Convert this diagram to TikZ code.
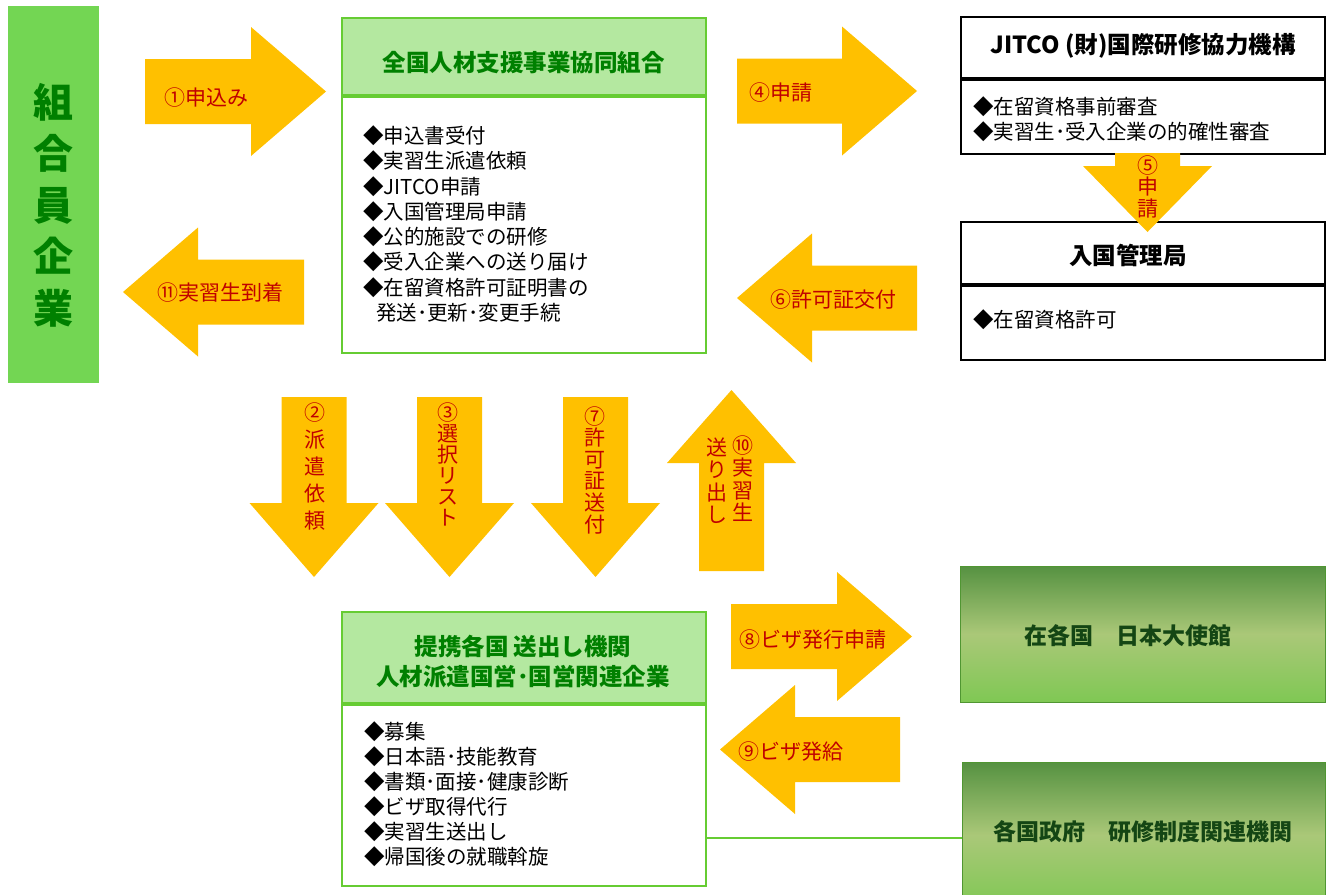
\documentclass[tikz,border=0pt]{standalone}
\usepackage{fontspec}
\setmainfont{Noto Sans CJK JP}
\usepackage{xcolor}
\usepackage{tikz}
\usetikzlibrary{positioning}

\definecolor{arrowfill}{RGB}{255,192,0}
\definecolor{arrowtext}{RGB}{192,0,0}
\definecolor{leftgreen}{RGB}{115,214,83}
\definecolor{titlegreen}{RGB}{0,128,0}
\definecolor{boxgreen}{RGB}{102,204,51}
\definecolor{hdrgreen}{RGB}{180,232,160}
\definecolor{deepgreen}{RGB}{20,70,20}
\definecolor{embedge}{RGB}{80,150,50}
\definecolor{emblow}{RGB}{105,200,65}
\definecolor{embmid}{RGB}{170,200,120}
\definecolor{embhigh}{RGB}{62,130,50}
\definecolor{embstrip}{RGB}{110,190,75}

\pgfdeclareverticalshading{embassy}{100bp}{color(0bp)=(embedge); color(5bp)=(emblow); color(12bp)=(emblow);
  color(50bp)=(embmid); color(82bp)=(embhigh); color(93bp)=(embedge); color(96bp)=(embstrip); color(100bp)=(embedge)}

\newcommand{\hblockarrow}[4]{\fill[arrowfill] (#1,#4-32.5) -- (#2,#4-32.5) -- (#2,#4-64.5) -- (#3,#4)
  -- (#2,#4+64.5) -- (#2,#4+32.5) -- (#1,#4+32.5) -- cycle;}
\newcommand{\vblockarrow}[4]{\fill[arrowfill] (#1-32.5,#2) -- (#1-32.5,#3) -- (#1-64.5,#3) -- (#1,#4)
  -- (#1+64.5,#3) -- (#1+32.5,#3) -- (#1+32.5,#2) -- cycle;}

\setlength{\lineskiplimit}{-40pt}

\begin{document}
\begin{tikzpicture}[x=1pt, y=-1pt,
  panel/.style={line width=2pt, minimum width=364pt, inner sep=0pt},
  embbox/.style={shading=embassy, draw=embedge, line width=1pt, minimum width=365pt, inner sep=0pt},
  boxtitle/.style={font=\bfseries\fontsize{23.5}{30}\selectfont, inner sep=0pt, align=center},
  itemlist/.style={font=\fontsize{20.5}{25.3}\selectfont, inner sep=0pt, align=left, anchor=west},
  atext/.style={text=arrowtext, font=\fontsize{21}{21}\selectfont, inner sep=0pt},
  vtext/.style={text=arrowtext, inner sep=0pt, text width=26pt, align=center}]
\useasboundingbox (0,0) rectangle (1327,894);

\node[fill=leftgreen, minimum width=91pt, minimum height=377pt, inner sep=0pt] (kigyo) at (53.5,194.5) {};
\node[text=titlegreen, font=\bfseries\fontsize{40}{51.5}\selectfont, text width=50pt,
  align=center, inner sep=0pt] (kigyoname) at (53,205) {組\\合\\員\\企\\業};

\node[panel, draw=boxgreen, fill=hdrgreen, minimum height=77pt] (kumiai) at (523.5,56.5) {};
\node[panel, draw=boxgreen, minimum height=256pt, anchor=north] (kumiaibody) at (kumiai.south) {};
\node[boxtitle, text=titlegreen] (kumiaititle) at (523.5,63) {全国人材支援事業協同組合};
\node[itemlist] (kumiaiitems) at (363,224) {◆申込書受付\\◆実習生派遣依頼\\◆JITCO申請\\◆入国管理局申請\\◆公的施設での研修\\
  ◆受入企業への送り届け\\◆在留資格許可証明書の\\\hspace*{13pt}発送･更新･変更手続};

\node[panel, draw=black, minimum height=61pt] (jitco) at (1143,47.5) {};
\node[panel, draw=black, minimum height=74pt, anchor=north] (jitcobody) at (jitco.south) {};
\node[boxtitle] (jitcotitle) at (1143,46) {JITCO (財)国際研修協力機構};
\node[itemlist] (jitcoitems) at (973,119.5) {◆在留資格事前審査\\◆実習生･受入企業の的確性審査};

\node[panel, draw=black, minimum height=62pt] (nyukan) at (1143,253) {};
\node[panel, draw=black, minimum height=74pt, anchor=north] (nyukanbody) at (nyukan.south) {};
\node[boxtitle] (nyukantitle) at (1128,255) {入国管理局};
\node[itemlist] (nyukanitems) at (973,320) {◆在留資格許可};

\node[panel, draw=boxgreen, fill=hdrgreen, minimum height=91pt] (okuri) at (524,657.5) {};
\node[panel, draw=boxgreen, minimum height=181pt, anchor=north] (okuribody) at (okuri.south) {};
\node[boxtitle, text=titlegreen] (okurititle) at (523,662) {提携各国 送出し機関\\人材派遣国営･国営関連企業};
\node[itemlist, font=\fontsize{20.5}{25}\selectfont] (okuriitems) at (364,794.5) {◆募集\\◆日本語･技能教育\\◆書類･面接･健康診断\\
  ◆ビザ取得代行\\◆実習生送出し\\◆帰国後の就職斡旋};

\node[embbox, minimum height=136pt] (taishikan) at (1142.5,634) {};
\node[embbox, minimum width=363pt, minimum height=146pt] (seifu) at (1143.5,835) {};
\node[boxtitle, text=deepgreen, font=\bfseries\fontsize{23}{28}\selectfont] (taishikantitle) at (1128,636) {在各国　日本大使館};
\node[boxtitle, text=deepgreen, font=\bfseries\fontsize{23}{28}\selectfont] (seifutitle) at (1143,832) {各国政府　研修制度関連機関};

\coordinate (renraku) at (962,838);
\draw[boxgreen, line width=2pt] (okuribody.east |- renraku) -- (renraku);

\hblockarrow{145}{251}{326}{91.5}
\hblockarrow{304}{198}{123}{292}
\hblockarrow{737}{842}{917}{91}
\hblockarrow{917}{812}{737}{298}
\hblockarrow{731}{837}{912}{636.5}
\hblockarrow{900}{795}{720}{749.5}
\vblockarrow{1147.5}{153}{166}{232}
\vblockarrow{314}{397}{503}{577}
\vblockarrow{449.5}{397}{503}{577}
\vblockarrow{595.5}{397}{503}{577}
\vblockarrow{731.5}{571}{463}{390}

\node[atext] (moushikomi) at (206,98) {①申込み};
\node[atext] (touchaku) at (220,293) {⑪実習生到着};
\node[atext] (shinsei) at (781,93) {④申請};
\node[atext] (kyoka) at (833,300) {⑥許可証交付};
\node[atext] (visashinsei) at (813,640) {⑧ビザ発行申請};
\node[atext] (visahakkyu) at (791,752) {⑨ビザ発給};
\node[vtext, font=\fontsize{21}{21.5}\selectfont] (shinsei5) at (1147.5,186.5) {⑤\\申\\請};
\node[vtext, font=\fontsize{21}{27}\selectfont] (haken) at (315,466) {②\\派\\遣\\依\\頼};
\node[vtext, font=\fontsize{21}{21}\selectfont] (sentaku) at (448,464.5) {③\\選\\択\\リ\\ス\\ト};
\node[vtext, font=\fontsize{21}{21.6}\selectfont] (kyokasofu) at (595,470) {⑦\\許\\可\\証\\送\\付};
\node[vtext, font=\fontsize{21}{22.5}\selectfont] (jisshusei) at (743,478.5) {⑩\\実\\習\\生};
\node[vtext, font=\fontsize{21}{22.5}\selectfont] (okuridashi) at (717,480.5) {送\\り\\出\\し};
\end{tikzpicture}
\end{document}
